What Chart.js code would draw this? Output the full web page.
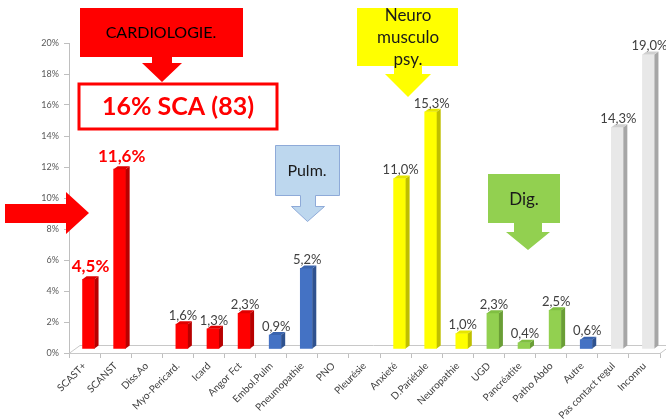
<!DOCTYPE html>
<html>
<head>
<meta charset="utf-8">
<script src="https://cdn.jsdelivr.net/npm/chart.js@4/dist/chart.umd.min.js"></script>
<style>
  html, body { margin: 0; padding: 0; background: #fff; }
  #wrap { width: 666px; height: 419px; position: relative; }
</style>
</head>
<body>
<div id="wrap"><canvas id="chart" width="666" height="419"></canvas></div>
<script>
// motifs de consultation (% des patients)
const categories = ['SCAST+', 'SCANST', 'Diss.Ao', 'Myo-Pericard.', 'Icard', 'Angor Fct',
  'Embol.Pulm', 'Pneumopathie', 'PNO', 'Pleurésie', 'Anxieté', 'D.Pariétale', 'Neuropathie',
  'UGD', 'Pancréatite', 'Patho Abdo', 'Autre', 'Pas contact regul', 'Inconnu'];
const values = [4.5, 11.6, 0, 1.6, 1.3, 2.3, 0.9, 5.2, 0, 0, 11.0, 15.3, 1.0, 2.3, 0.4, 2.5, 0.6, 14.3, 19.0];
const groups = ['cardio', 'cardio', 'cardio', 'cardio', 'cardio', 'cardio',
  'pulm', 'pulm', 'pulm', 'pulm', 'neuro', 'neuro', 'neuro',
  'dig', 'dig', 'dig', 'pulm', 'autre', 'autre'];
const yTicks = [0, 2, 4, 6, 8, 10, 12, 14, 16, 18, 20];

const palette = {
  cardio: { front: '#ff0000', side: '#b80000', top: '#e00000' },
  pulm:   { front: '#4472c4', side: '#2f528f', top: '#3a64ae' },
  neuro:  { front: '#ffff00', side: '#bfbf00', top: '#e6e600' },
  dig:    { front: '#92d050', side: '#6a9e36', top: '#80bf42' },
  autre:  { front: '#e8e8e8', side: '#a6a6a6', top: '#d0d0d0' }
};

const DX = 4, DY = -4;       // décalage du plan des barres
const DEPTH = 4, RISE = 3;   // profondeur des faces latérales

const fmt = v => v.toFixed(1).replace('.', ',') + '%';

const bars3d = {
  id: 'bars3d',
  beforeDatasetsDraw(chart) {
    const { ctx, chartArea: a } = chart;
    // sol en perspective
    ctx.save();
    ctx.strokeStyle = '#c8c8c8';
    ctx.lineWidth = 1;
    ctx.beginPath();
    ctx.moveTo(a.left, a.bottom + 0.5);
    ctx.lineTo(a.left + 11, a.bottom - 8 + 0.5);
    ctx.lineTo(a.right + 11, a.bottom - 8 + 0.5);
    ctx.lineTo(a.right, a.bottom + 0.5);
    ctx.stroke();
    ctx.restore();
    ctx.save();
    ctx.translate(DX, DY);
  },
  afterDatasetsDraw(chart) {
    const { ctx } = chart;
    const meta = chart.getDatasetMeta(0);
    meta.data.forEach((bar, i) => {
      if (!values[i]) return;
      const c = palette[groups[i]];
      const l = bar.x - bar.width / 2, r = bar.x + bar.width / 2;
      ctx.fillStyle = c.side;
      ctx.beginPath();
      ctx.moveTo(r, bar.y);
      ctx.lineTo(r + DEPTH, bar.y - RISE);
      ctx.lineTo(r + DEPTH, bar.base - RISE);
      ctx.lineTo(r, bar.base);
      ctx.closePath();
      ctx.fill();
      ctx.fillStyle = c.top;
      ctx.beginPath();
      ctx.moveTo(l, bar.y);
      ctx.lineTo(l + DEPTH, bar.y - RISE);
      ctx.lineTo(r + DEPTH, bar.y - RISE);
      ctx.lineTo(r, bar.y);
      ctx.closePath();
      ctx.fill();
    });
    // étiquettes de valeur
    ctx.textAlign = 'center';
    ctx.textBaseline = 'bottom';
    meta.data.forEach((bar, i) => {
      if (!values[i]) return;
      if (i < 2) {
        ctx.font = 'bold 17px Lato';
        ctx.fillStyle = '#ff0000';
        ctx.fillText(fmt(values[i]), bar.x + 2, bar.y - 4);
      } else {
        ctx.font = '13px Lato';
        ctx.fillStyle = '#404040';
        ctx.fillText(fmt(values[i]), bar.x + 1, bar.y - 2);
      }
    });
    ctx.restore();
  },
  afterDraw(chart) {
    const { ctx } = chart;
    ctx.save();
    ctx.textAlign = 'center';
    ctx.textBaseline = 'middle';

    // bloc CARDIOLOGIE.
    ctx.fillStyle = '#ff0000';
    ctx.beginPath();
    ctx.moveTo(80, 8); ctx.lineTo(243, 8); ctx.lineTo(243, 57);
    ctx.lineTo(172, 57); ctx.lineTo(172, 63); ctx.lineTo(182, 63);
    ctx.lineTo(162, 82); ctx.lineTo(142, 63); ctx.lineTo(152, 63);
    ctx.lineTo(152, 57); ctx.lineTo(80, 57); ctx.closePath();
    ctx.fill();
    ctx.fillStyle = '#000';
    ctx.font = '16px Lato';
    ctx.fillText('CARDIOLOGIE.', 161, 33);

    // encadré SCA
    ctx.fillStyle = '#fff';
    ctx.fillRect(79, 84, 198, 45);
    ctx.strokeStyle = '#ff0000';
    ctx.lineWidth = 3;
    ctx.strokeRect(79, 84, 198, 45);
    ctx.fillStyle = '#ff0000';
    ctx.font = 'bold 25px Lato';
    ctx.fillText('16% SCA (83)', 178, 107);

    // flèche gauche
    ctx.beginPath();
    ctx.moveTo(5, 204); ctx.lineTo(66, 204); ctx.lineTo(66, 192);
    ctx.lineTo(89, 213); ctx.lineTo(66, 234); ctx.lineTo(66, 223);
    ctx.lineTo(5, 223); ctx.closePath();
    ctx.fill();

    // bloc Pulm.
    ctx.fillStyle = '#bdd7ee';
    ctx.strokeStyle = '#8eaad8';
    ctx.lineWidth = 1;
    ctx.beginPath();
    ctx.moveTo(275.5, 145.5); ctx.lineTo(339.5, 145.5); ctx.lineTo(339.5, 195.5);
    ctx.lineTo(315.5, 195.5); ctx.lineTo(315.5, 206.5); ctx.lineTo(324.5, 206.5);
    ctx.lineTo(307.5, 221.5); ctx.lineTo(291.5, 206.5); ctx.lineTo(300.5, 206.5);
    ctx.lineTo(300.5, 195.5); ctx.lineTo(275.5, 195.5); ctx.closePath();
    ctx.fill(); ctx.stroke();
    ctx.fillStyle = '#1a1a1a';
    ctx.font = '16px Lato';
    ctx.fillText('Pulm.', 307, 171);

    // bloc Neuro musculo psy.
    ctx.fillStyle = '#ffff00';
    ctx.beginPath();
    ctx.moveTo(357, 8); ctx.lineTo(458, 8); ctx.lineTo(458, 66);
    ctx.lineTo(422, 66); ctx.lineTo(422, 74); ctx.lineTo(431, 74);
    ctx.lineTo(408, 97); ctx.lineTo(385, 74); ctx.lineTo(394, 74);
    ctx.lineTo(394, 66); ctx.lineTo(357, 66); ctx.closePath();
    ctx.fill();
    ctx.fillStyle = '#1a1a1a';
    ctx.font = '17px Lato';
    ctx.fillText('Neuro', 408, 16);
    ctx.fillText('musculo', 408, 38);
    ctx.fillText('psy.', 408, 60);

    // bloc Dig.
    ctx.fillStyle = '#92d050';
    ctx.beginPath();
    ctx.moveTo(488, 174); ctx.lineTo(560, 174); ctx.lineTo(560, 223);
    ctx.lineTo(542, 223); ctx.lineTo(542, 232); ctx.lineTo(550, 232);
    ctx.lineTo(528, 250); ctx.lineTo(506, 232); ctx.lineTo(514, 232);
    ctx.lineTo(514, 223); ctx.lineTo(488, 223); ctx.closePath();
    ctx.fill();
    ctx.fillStyle = '#1a1a1a';
    ctx.font = '17px Lato';
    ctx.fillText('Dig.', 524, 200);
    ctx.restore();
  }
};

new Chart(document.getElementById('chart'), {
  type: 'bar',
  data: {
    labels: categories,
    datasets: [{
      data: values,
      // pas de trait pour les catégories à 0 %
      backgroundColor: values.map((v, i) => v ? palette[groups[i]].front : 'rgba(0,0,0,0)'),
      barThickness: 12,
      clip: false
    }]
  },
  options: {
    responsive: false,
    animation: false,
    layout: { padding: { top: 43, right: 6, left: 0, bottom: 0 } },
    plugins: { legend: { display: false }, tooltip: { enabled: false } },
    scales: {
      x: {
        grid: { drawOnChartArea: false, tickLength: 5, color: '#bfbfbf', offset: true },
        border: { color: '#c8c8c8' },
        ticks: {
          color: '#404040', font: { family: 'Lato', size: 10 },
          maxRotation: 45, minRotation: 45, autoSkip: false, padding: 2
        },
        afterFit(scale) { scale.height = 66; }
      },
      y: {
        min: 0, max: 20,
        afterBuildTicks(scale) { scale.ticks = yTicks.map(v => ({ value: v })); },
        grid: { drawOnChartArea: false, tickLength: 5, color: '#bfbfbf' },
        border: { color: '#bfbfbf' },
        ticks: {
          color: '#595959', font: { family: 'Lato', size: 9 }, padding: 5,
          callback: v => v + '%'
        },
        afterFit(scale) { scale.width = 69; }
      }
    }
  },
  plugins: [bars3d]
});
</script>
</body>
</html>
